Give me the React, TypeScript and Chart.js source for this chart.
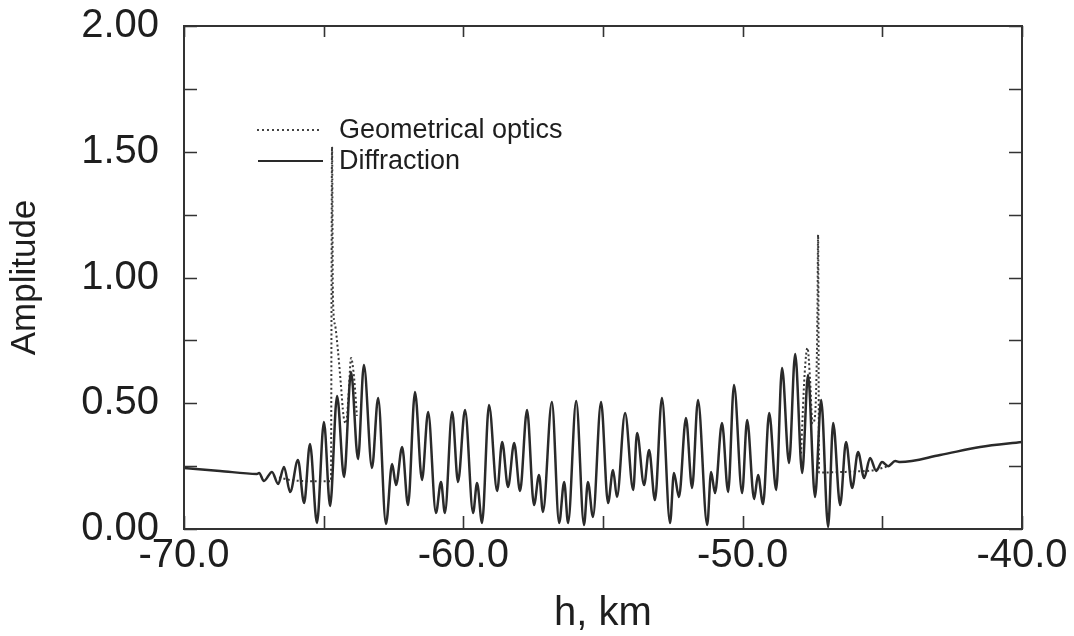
import React, { useEffect, useRef } from "react";
import { Chart, registerables } from "chart.js";

Chart.register(...registerables);

// ---- data ----
const diffH = [-70.0, -68.71, -67.39, -67.31, -67.14, -66.85, -66.63, -66.42, -66.20, -65.92, -65.70, -65.49, -65.24, -64.99, -64.77, -64.52, -64.27, -64.02, -63.77, -63.56, -63.27, -63.05, -62.77, -62.55, -62.41, -62.19, -61.98, -61.73, -61.48, -61.26, -60.98, -60.80, -60.66, -60.40, -60.19, -59.94, -59.65, -59.51, -59.33, -59.08, -58.79, -58.61, -58.40, -58.18, -57.97, -57.72, -57.47, -57.29, -57.15, -56.83, -56.57, -56.39, -56.25, -55.96, -55.68, -55.54, -55.36, -55.07, -54.82, -54.64, -54.50, -54.21, -53.92, -53.78, -53.53, -53.35, -53.14, -52.89, -52.60, -52.46, -52.28, -52.03, -51.81, -51.60, -51.27, -51.13, -50.99, -50.74, -50.52, -50.31, -50.02, -49.84, -49.59, -49.45, -49.27, -49.05, -48.80, -48.59, -48.34, -48.12, -47.87, -47.66, -47.41, -47.19, -46.94, -46.76, -46.51, -46.30, -46.08, -45.87, -45.65, -45.44, -45.22, -45.01, -44.79, -44.54, -44.36, -42.93, -41.50, -40.00];
const diffA = [0.243, 0.231, 0.219, 0.223, 0.191, 0.227, 0.179, 0.247, 0.147, 0.274, 0.103, 0.338, 0.024, 0.425, 0.091, 0.529, 0.207, 0.624, 0.278, 0.652, 0.243, 0.521, 0.020, 0.258, 0.175, 0.326, 0.095, 0.545, 0.195, 0.465, 0.064, 0.187, 0.064, 0.465, 0.187, 0.473, 0.064, 0.183, 0.024, 0.493, 0.151, 0.346, 0.167, 0.342, 0.151, 0.473, 0.095, 0.215, 0.068, 0.505, 0.024, 0.187, 0.024, 0.509, 0.016, 0.187, 0.048, 0.505, 0.103, 0.235, 0.127, 0.461, 0.155, 0.382, 0.175, 0.314, 0.115, 0.521, 0.024, 0.223, 0.127, 0.441, 0.163, 0.513, 0.016, 0.227, 0.143, 0.421, 0.147, 0.573, 0.143, 0.433, 0.119, 0.215, 0.099, 0.461, 0.155, 0.640, 0.262, 0.696, 0.223, 0.612, 0.127, 0.513, 0.008, 0.421, 0.095, 0.346, 0.163, 0.306, 0.203, 0.282, 0.231, 0.266, 0.250, 0.270, 0.266, 0.294, 0.326, 0.346];

const geoLeftH = [-66.60, -66.20, -65.49, -64.74, -64.70, -64.67, -64.59, -64.49, -64.38, -64.29, -64.20, -64.11, -64.02, -63.91, -63.81];
const geoLeftA = [0.205, 0.195, 0.19, 0.19, 1.52, 0.93, 0.81, 0.71, 0.57, 0.45, 0.42, 0.53, 0.68, 0.60, 0.45];
const geoRightH = [-47.91, -47.78, -47.68, -47.59, -47.50, -47.41, -47.35, -47.32, -47.30, -47.265, -47.05, -46.15, -45.26, -44.79];
const geoRightA = [0.30, 0.62, 0.72, 0.60, 0.42, 0.45, 0.65, 0.90, 1.17, 0.225, 0.225, 0.228, 0.235, 0.25];

const xTickValues = [-70, -65, -60, -55, -50, -45, -40];
const xTickLabels = ["-70.0", "", "-60.0", "", "-50.0", "", "-40.0"];
const yTickValues = [0, 0.25, 0.5, 0.75, 1.0, 1.25, 1.5, 1.75, 2.0];
const yTickLabels = ["0.00", "", "0.50", "", "1.00", "", "1.50", "", "2.00"];

const legendLabels = ["Geometrical optics", "Diffraction"];

const FONT = '"Liberation Sans", Arial, Helvetica, sans-serif';
const INK = "#2a2a2a";

const toPoints = (hs: number[], as: number[]) => hs.map((h, i) => ({ x: h, y: as[i] }));

const framePlugin = {
  id: "frameTicksLegend",
  afterDatasetsDraw(chart: any) {
    const { ctx, chartArea, scales } = chart;
    const { left, right, top, bottom } = chartArea;
    ctx.save();
    ctx.strokeStyle = "#333";
    ctx.lineWidth = 2;
    ctx.strokeRect(left, top, right - left, bottom - top);
    ctx.lineWidth = 1.6;
    ctx.beginPath();
    for (const v of xTickValues) {
      const px = Math.round(scales.x.getPixelForValue(v)) + 0.5;
      ctx.moveTo(px, bottom);
      ctx.lineTo(px, bottom - 13);
      ctx.moveTo(px, top);
      ctx.lineTo(px, top + 11);
    }
    for (const v of yTickValues) {
      const py = Math.round(scales.y.getPixelForValue(v)) + 0.5;
      ctx.moveTo(left, py);
      ctx.lineTo(left + 13, py);
      ctx.moveTo(right, py);
      ctx.lineTo(right - 13, py);
    }
    ctx.stroke();

    // legend inside plot
    const lx0 = left + 73;
    const lx1 = left + 135;
    const y1 = top + 104;
    const y2 = top + 135;
    ctx.strokeStyle = "#444";
    ctx.lineWidth = 2;
    ctx.setLineDash([2, 3]);
    ctx.beginPath();
    ctx.moveTo(lx0, y1);
    ctx.lineTo(lx1, y1);
    ctx.stroke();
    ctx.setLineDash([]);
    ctx.strokeStyle = INK;
    ctx.lineWidth = 2;
    ctx.beginPath();
    ctx.moveTo(lx0 + 1, y2);
    ctx.lineTo(lx1 + 4, y2);
    ctx.stroke();
    ctx.fillStyle = "#1e1e1e";
    ctx.font = `27px ${FONT}`;
    ctx.textBaseline = "alphabetic";
    ctx.textAlign = "left";
    ctx.fillText(legendLabels[0], left + 155, y1 + 8);
    ctx.fillText(legendLabels[1], left + 155, y2 + 8);
    ctx.restore();
  },
};

export default function App() {
  const ref = useRef<HTMLCanvasElement | null>(null);

  useEffect(() => {
    if (!ref.current) return;
    const chart = new Chart(ref.current, {
      type: "line",
      data: {
        datasets: [
          {
            label: "Diffraction",
            data: toPoints(diffH, diffA),
            borderColor: INK,
            borderWidth: 2.5,
            pointRadius: 0,
            fill: false,
            cubicInterpolationMode: "monotone",
          },
          {
            label: "Geometrical optics",
            data: toPoints(geoLeftH, geoLeftA),
            borderColor: "#3a3a3a",
            borderWidth: 2,
            borderDash: [2, 2.5],
            pointRadius: 0,
            fill: false,
            cubicInterpolationMode: "monotone",
          },
          {
            label: "Geometrical optics ",
            data: toPoints(geoRightH, geoRightA),
            borderColor: "#3a3a3a",
            borderWidth: 2,
            borderDash: [2, 2.5],
            pointRadius: 0,
            fill: false,
            cubicInterpolationMode: "monotone",
          },
        ],
      },
      options: {
        responsive: false,
        animation: false,
        layout: { padding: { top: 26, right: 52, bottom: 0, left: 0 } },
        plugins: { legend: { display: false }, tooltip: { enabled: false }, title: { display: false } },
        scales: {
          x: {
            type: "linear",
            min: -70,
            max: -40,
            grid: { display: false, drawTicks: false },
            border: { display: false },
            afterBuildTicks: (scale: any) => {
              scale.ticks = xTickValues.map((v) => ({ value: v }));
            },
            afterFit: (scale: any) => {
              scale.height = 107;
              scale.paddingLeft = 0;
              scale.paddingRight = 0;
            },
            ticks: {
              autoSkip: false,
              maxRotation: 0,
              padding: 3,
              color: "#1e1e1e",
              font: { family: FONT, size: 40 },
              callback: (value: any) => {
                const i = xTickValues.indexOf(Number(value));
                return i >= 0 ? xTickLabels[i] : "";
              },
            },
            title: {
              display: true,
              text: "h, km",
              color: "#1e1e1e",
              font: { family: FONT, size: 40, lineHeight: 1 },
              padding: { top: 0, bottom: 2 },
            },
          },
          y: {
            type: "linear",
            min: 0,
            max: 2,
            grid: { display: false, drawTicks: false },
            border: { display: false },
            afterBuildTicks: (scale: any) => {
              scale.ticks = yTickValues.map((v) => ({ value: v }));
            },
            afterFit: (scale: any) => {
              scale.width = 184;
              scale.paddingTop = 0;
              scale.paddingBottom = 0;
            },
            ticks: {
              autoSkip: false,
              padding: 25,
              color: "#1e1e1e",
              font: { family: FONT, size: 40 },
              callback: (value: any) => {
                const i = yTickValues.indexOf(Number(value));
                return i >= 0 ? yTickLabels[i] : "";
              },
            },
            title: {
              display: true,
              text: "Amplitude",
              color: "#1e1e1e",
              font: { family: FONT, size: 35, lineHeight: 1 },
              padding: { top: 8, bottom: 0 },
            },
          },
        },
      },
      plugins: [framePlugin],
    } as any);
    return () => chart.destroy();
  }, []);

  return (
    <div style={{ position: "fixed", left: 0, top: 0, width: 1074, height: 636, background: "#fff" }}>
      <canvas ref={ref} width={1074} height={636} style={{ display: "block" }} />
    </div>
  );
}
